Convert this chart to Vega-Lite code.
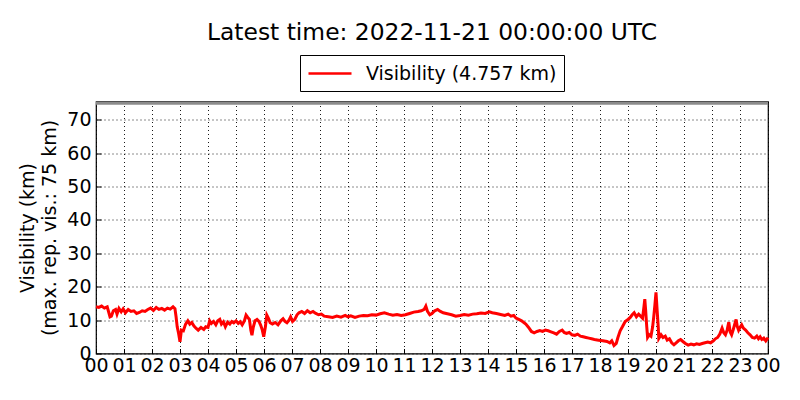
{
  "$schema": "https://vega.github.io/schema/vega-lite/v6.json",
  "autosize": "none",
  "width": 672,
  "height": 252,
  "padding": {"left": 96, "top": 101.5, "right": 32, "bottom": 46.5},
  "background": "white",
  "title": {
    "text": "Latest time: 2022-11-21 00:00:00 UTC",
    "font": "DejaVu Sans",
    "fontSize": 23.4,
    "fontWeight": "normal",
    "color": "black",
    "anchor": "middle",
    "offset": 9
  },
  "config": {
    "font": "DejaVu Sans",
    "view": {"stroke": "black", "strokeWidth": 1.2},
    "axis": {
      "domain": false,
      "grid": true,
      "gridColor": "black",
      "gridDash": [1, 3],
      "gridWidth": 1,
      "gridOpacity": 0.9,
      "ticks": true,
      "tickColor": "black",
      "tickSize": -5,
      "labelFont": "DejaVu Sans",
      "labelFontSize": 19,
      "labelColor": "black",
      "labelOverlap": false,
      "labelFlush": false,
      "titleFont": "DejaVu Sans",
      "titleFontSize": 19,
      "titleFontWeight": "normal",
      "titleColor": "black"
    }
  },
  "encoding": {
    "y": {
      "field": "vis",
      "type": "quantitative",
      "scale": {"domain": [0, 75.5], "nice": false},
      "axis": {
        "title": ["Visibility (km)", "(max. rep. vis.: 75 km)"],
        "values": [0, 10, 20, 30, 40, 50, 60, 70],
        "labelPadding": 10,
        "titlePadding": 7,
        "titleLineHeight": 22
      }
    }
  },
  "layer": [
    {
      "data": {"values": [{"vis": 75}]},
      "mark": {"type": "rule", "color": "#8c8c8c", "strokeWidth": 3},
      "encoding": {}
    },
    {
      "data": {
        "values": [
          {"h": 0.0, "vis": 14}, {"h": 0.1, "vis": 13.8}, {"h": 0.2, "vis": 14.2}, {"h": 0.3, "vis": 13.6},
          {"h": 0.4, "vis": 14.0}, {"h": 0.45, "vis": 12.5}, {"h": 0.5, "vis": 11}, {"h": 0.55, "vis": 11.2},
          {"h": 0.62, "vis": 12.8}, {"h": 0.7, "vis": 13.2}, {"h": 0.75, "vis": 11.8}, {"h": 0.82, "vis": 13.5},
          {"h": 0.9, "vis": 12.5}, {"h": 0.97, "vis": 13.4}, {"h": 1.05, "vis": 12.2}, {"h": 1.15, "vis": 13.2},
          {"h": 1.25, "vis": 12.6}, {"h": 1.35, "vis": 12.8}, {"h": 1.45, "vis": 12.0}, {"h": 1.55, "vis": 12.3},
          {"h": 1.65, "vis": 12.8}, {"h": 1.75, "vis": 12.6}, {"h": 1.85, "vis": 13.2}, {"h": 1.95, "vis": 13.6},
          {"h": 2.05, "vis": 12.9}, {"h": 2.15, "vis": 13.8}, {"h": 2.25, "vis": 13.2}, {"h": 2.35, "vis": 13.5},
          {"h": 2.45, "vis": 13.0}, {"h": 2.55, "vis": 13.6}, {"h": 2.65, "vis": 13.3}, {"h": 2.75, "vis": 14.0},
          {"h": 2.82, "vis": 13.4}, {"h": 2.86, "vis": 11}, {"h": 2.9, "vis": 8}, {"h": 2.95, "vis": 6},
          {"h": 3.0, "vis": 3.5}, {"h": 3.05, "vis": 7}, {"h": 3.12, "vis": 6.8}, {"h": 3.2, "vis": 8.8},
          {"h": 3.28, "vis": 9.8}, {"h": 3.35, "vis": 8.8}, {"h": 3.42, "vis": 9.3}, {"h": 3.5, "vis": 8.2},
          {"h": 3.58, "vis": 7.5}, {"h": 3.65, "vis": 7.0}, {"h": 3.75, "vis": 7.8}, {"h": 3.85, "vis": 7.2},
          {"h": 3.92, "vis": 8.0}, {"h": 4.0, "vis": 7.8}, {"h": 4.06, "vis": 9.8}, {"h": 4.12, "vis": 9.0},
          {"h": 4.2, "vis": 9.6}, {"h": 4.28, "vis": 8.6}, {"h": 4.35, "vis": 9.8}, {"h": 4.42, "vis": 10.2},
          {"h": 4.48, "vis": 8.8}, {"h": 4.55, "vis": 9.5}, {"h": 4.62, "vis": 8.0}, {"h": 4.7, "vis": 9.4},
          {"h": 4.78, "vis": 8.8}, {"h": 4.85, "vis": 9.6}, {"h": 4.92, "vis": 9.2}, {"h": 5.0, "vis": 9.8},
          {"h": 5.08, "vis": 9.0}, {"h": 5.15, "vis": 9.5}, {"h": 5.22, "vis": 8.6}, {"h": 5.3, "vis": 9.8},
          {"h": 5.36, "vis": 11.5}, {"h": 5.42, "vis": 10.8}, {"h": 5.48, "vis": 10.2}, {"h": 5.53, "vis": 7},
          {"h": 5.57, "vis": 5.5}, {"h": 5.62, "vis": 8}, {"h": 5.68, "vis": 9.8}, {"h": 5.75, "vis": 10.2},
          {"h": 5.82, "vis": 9.6}, {"h": 5.88, "vis": 8.5}, {"h": 5.94, "vis": 7.0}, {"h": 5.99, "vis": 5.0},
          {"h": 6.05, "vis": 8}, {"h": 6.1, "vis": 11.5}, {"h": 6.16, "vis": 10.5}, {"h": 6.22, "vis": 9.2},
          {"h": 6.3, "vis": 8.8}, {"h": 6.4, "vis": 9.3}, {"h": 6.5, "vis": 8.6}, {"h": 6.6, "vis": 9.8},
          {"h": 6.68, "vis": 10.4}, {"h": 6.75, "vis": 9.6}, {"h": 6.82, "vis": 9.2}, {"h": 6.88, "vis": 9.8},
          {"h": 6.95, "vis": 11.0}, {"h": 7.02, "vis": 9.6}, {"h": 7.1, "vis": 10.2}, {"h": 7.18, "vis": 11.6},
          {"h": 7.25, "vis": 12.2}, {"h": 7.35, "vis": 12.6}, {"h": 7.45, "vis": 12.0}, {"h": 7.55, "vis": 12.8},
          {"h": 7.65, "vis": 12.2}, {"h": 7.75, "vis": 12.6}, {"h": 7.85, "vis": 12.0}, {"h": 7.95, "vis": 11.6},
          {"h": 8.05, "vis": 11.8}, {"h": 8.15, "vis": 11.2}, {"h": 8.3, "vis": 11.0}, {"h": 8.45, "vis": 10.8},
          {"h": 8.6, "vis": 11.2}, {"h": 8.75, "vis": 10.9}, {"h": 8.9, "vis": 11.4}, {"h": 9.0, "vis": 11.0},
          {"h": 9.1, "vis": 11.3}, {"h": 9.25, "vis": 10.8}, {"h": 9.4, "vis": 11.2}, {"h": 9.55, "vis": 11.4},
          {"h": 9.7, "vis": 11.3}, {"h": 9.85, "vis": 11.6}, {"h": 10.0, "vis": 11.5}, {"h": 10.15, "vis": 11.9},
          {"h": 10.3, "vis": 12.2}, {"h": 10.45, "vis": 11.8}, {"h": 10.6, "vis": 11.5}, {"h": 10.75, "vis": 11.7},
          {"h": 10.9, "vis": 11.4}, {"h": 11.05, "vis": 11.6}, {"h": 11.2, "vis": 12.0}, {"h": 11.35, "vis": 12.4},
          {"h": 11.5, "vis": 12.6}, {"h": 11.62, "vis": 12.8}, {"h": 11.72, "vis": 13.2}, {"h": 11.78, "vis": 14.2},
          {"h": 11.84, "vis": 12.6}, {"h": 11.92, "vis": 11.6}, {"h": 12.0, "vis": 12.0}, {"h": 12.1, "vis": 12.8},
          {"h": 12.2, "vis": 13.2}, {"h": 12.3, "vis": 12.6}, {"h": 12.4, "vis": 12.2}, {"h": 12.55, "vis": 11.9},
          {"h": 12.7, "vis": 11.6}, {"h": 12.85, "vis": 11.2}, {"h": 13.0, "vis": 11.4}, {"h": 13.15, "vis": 11.7},
          {"h": 13.3, "vis": 11.5}, {"h": 13.45, "vis": 11.8}, {"h": 13.6, "vis": 11.9}, {"h": 13.75, "vis": 12.1},
          {"h": 13.9, "vis": 12.0}, {"h": 14.05, "vis": 12.5}, {"h": 14.15, "vis": 12.2}, {"h": 14.3, "vis": 12.0},
          {"h": 14.45, "vis": 11.7}, {"h": 14.6, "vis": 11.4}, {"h": 14.72, "vis": 11.8}, {"h": 14.82, "vis": 11.2},
          {"h": 14.92, "vis": 11.4}, {"h": 15.0, "vis": 10.6}, {"h": 15.1, "vis": 10.2}, {"h": 15.2, "vis": 9.8},
          {"h": 15.35, "vis": 8.8}, {"h": 15.45, "vis": 7.8}, {"h": 15.55, "vis": 6.6}, {"h": 15.65, "vis": 6.2},
          {"h": 15.75, "vis": 6.6}, {"h": 15.85, "vis": 6.9}, {"h": 15.95, "vis": 6.6}, {"h": 16.05, "vis": 7.0},
          {"h": 16.15, "vis": 6.8}, {"h": 16.25, "vis": 6.5}, {"h": 16.35, "vis": 6.2}, {"h": 16.45, "vis": 5.8},
          {"h": 16.55, "vis": 6.6}, {"h": 16.65, "vis": 7.0}, {"h": 16.72, "vis": 6.3}, {"h": 16.8, "vis": 6.0},
          {"h": 16.9, "vis": 6.3}, {"h": 17.0, "vis": 5.6}, {"h": 17.1, "vis": 5.4}, {"h": 17.2, "vis": 5.8},
          {"h": 17.3, "vis": 5.2}, {"h": 17.4, "vis": 5.0}, {"h": 17.5, "vis": 4.8}, {"h": 17.6, "vis": 4.6},
          {"h": 17.7, "vis": 4.4}, {"h": 17.8, "vis": 4.2}, {"h": 17.95, "vis": 4.0}, {"h": 18.1, "vis": 3.8},
          {"h": 18.25, "vis": 3.6}, {"h": 18.35, "vis": 3.2}, {"h": 18.42, "vis": 3.8}, {"h": 18.5, "vis": 2.4},
          {"h": 18.58, "vis": 3.0}, {"h": 18.64, "vis": 4.8}, {"h": 18.72, "vis": 6.8}, {"h": 18.8, "vis": 8.0},
          {"h": 18.9, "vis": 9.6}, {"h": 19.0, "vis": 10.2}, {"h": 19.08, "vis": 10.8}, {"h": 19.15, "vis": 11.6},
          {"h": 19.22, "vis": 12.2}, {"h": 19.3, "vis": 11.0}, {"h": 19.38, "vis": 11.8}, {"h": 19.45, "vis": 11.2},
          {"h": 19.52, "vis": 10.6}, {"h": 19.57, "vis": 14}, {"h": 19.6, "vis": 16.3}, {"h": 19.63, "vis": 13},
          {"h": 19.67, "vis": 8}, {"h": 19.7, "vis": 4.8}, {"h": 19.76, "vis": 5.6}, {"h": 19.82, "vis": 5.2},
          {"h": 19.88, "vis": 8}, {"h": 19.92, "vis": 11}, {"h": 19.96, "vis": 14.5}, {"h": 20.0, "vis": 18.3},
          {"h": 20.04, "vis": 13}, {"h": 20.08, "vis": 8}, {"h": 20.1, "vis": 4.5}, {"h": 20.18, "vis": 5.6},
          {"h": 20.25, "vis": 4.8}, {"h": 20.33, "vis": 5.2}, {"h": 20.4, "vis": 4.0}, {"h": 20.48, "vis": 4.4},
          {"h": 20.56, "vis": 3.2}, {"h": 20.64, "vis": 2.6}, {"h": 20.72, "vis": 3.2}, {"h": 20.8, "vis": 3.8},
          {"h": 20.88, "vis": 4.2}, {"h": 20.96, "vis": 3.6}, {"h": 21.05, "vis": 3.0}, {"h": 21.15, "vis": 2.5},
          {"h": 21.25, "vis": 2.8}, {"h": 21.35, "vis": 2.6}, {"h": 21.45, "vis": 2.9}, {"h": 21.55, "vis": 2.7},
          {"h": 21.65, "vis": 3.0}, {"h": 21.75, "vis": 3.2}, {"h": 21.85, "vis": 3.4}, {"h": 21.95, "vis": 3.2},
          {"h": 22.05, "vis": 3.8}, {"h": 22.12, "vis": 4.4}, {"h": 22.2, "vis": 4.8}, {"h": 22.28, "vis": 5.8},
          {"h": 22.36, "vis": 7.6}, {"h": 22.42, "vis": 6.2}, {"h": 22.48, "vis": 5.6}, {"h": 22.54, "vis": 7.0},
          {"h": 22.6, "vis": 9.4}, {"h": 22.65, "vis": 6.4}, {"h": 22.7, "vis": 5.6}, {"h": 22.76, "vis": 7.2},
          {"h": 22.82, "vis": 9.0}, {"h": 22.86, "vis": 10.2}, {"h": 22.9, "vis": 8.2}, {"h": 22.95, "vis": 7.0},
          {"h": 23.0, "vis": 7.8}, {"h": 23.06, "vis": 8.6}, {"h": 23.12, "vis": 7.6}, {"h": 23.2, "vis": 7.0},
          {"h": 23.28, "vis": 6.2}, {"h": 23.36, "vis": 5.6}, {"h": 23.44, "vis": 4.8}, {"h": 23.52, "vis": 4.6},
          {"h": 23.6, "vis": 5.2}, {"h": 23.66, "vis": 4.4}, {"h": 23.72, "vis": 5.0}, {"h": 23.78, "vis": 4.2},
          {"h": 23.85, "vis": 4.6}, {"h": 23.92, "vis": 3.8}, {"h": 24.0, "vis": 4.757}
        ]
      },
      "transform": [{"calculate": "'Visibility (4.757 km)'", "as": "series"}],
      "mark": {"type": "line", "strokeWidth": 3, "interpolate": "linear"},
      "encoding": {
        "x": {
          "field": "h",
          "type": "quantitative",
          "scale": {"domain": [0, 24], "nice": false},
          "axis": {
            "title": null,
            "values": [0, 1, 2, 3, 4, 5, 6, 7, 8, 9, 10, 11, 12, 13, 14, 15, 16, 17, 18, 19, 20, 21, 22, 23, 24],
            "labelExpr": "(datum.value % 24) < 10 ? '0' + (datum.value % 24) : '' + (datum.value % 24)",
            "labelPadding": 8
          }
        },
        "color": {
          "field": "series",
          "type": "nominal",
          "scale": {"range": ["#ff0000"]},
          "legend": {
            "title": null,
            "orient": "none",
            "legendX": 204,
            "legendY": -46.5,
            "symbolType": "M-1,0H3.3",
            "symbolSize": 400,
            "symbolStrokeWidth": 2.6,
            "labelFont": "DejaVu Sans",
            "labelFontSize": 19,
            "labelColor": "black",
            "labelLimit": 0,
            "labelOffset": 36,
            "padding": 7,
            "strokeColor": "black",
            "fillColor": "white",
            "cornerRadius": 0
          }
        }
      }
    }
  ]
}
